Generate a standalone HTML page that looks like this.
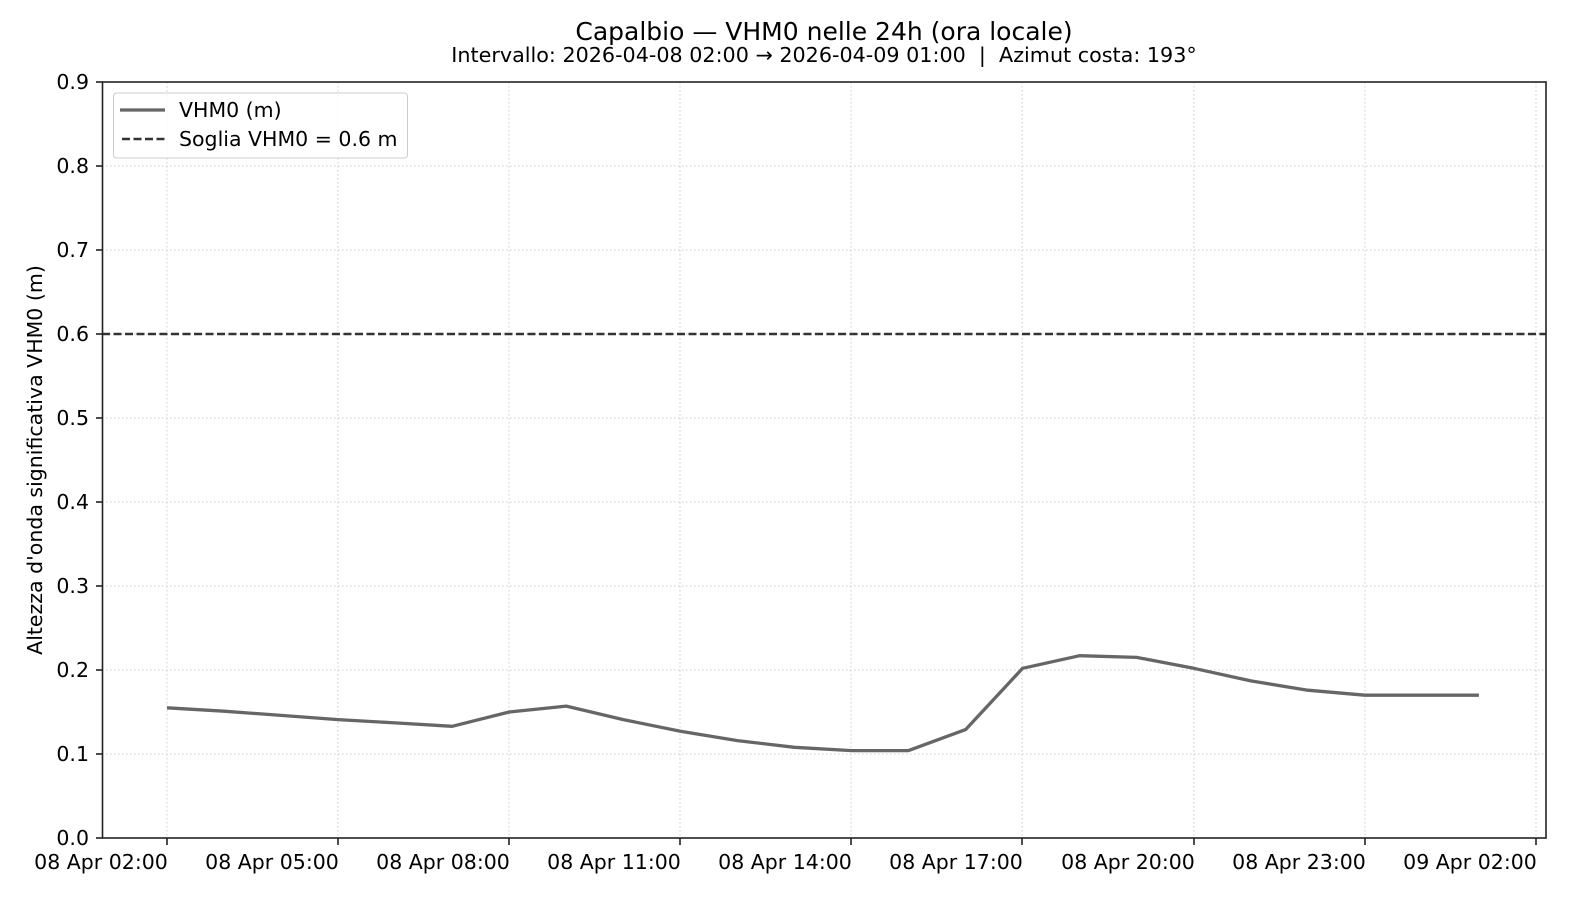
<!DOCTYPE html>
<html><head><meta charset="utf-8"><style>html,body{margin:0;padding:0;background:#fff}svg{display:block}text{font-family:"DejaVu Sans","Liberation Sans",sans-serif;fill:#000}</style></head><body>
<svg width="1575" height="900" viewBox="0 0 1575 900" xmlns="http://www.w3.org/2000/svg">
<rect width="1575" height="900" fill="#fff"/>
<text x="824" y="40" font-size="25" text-anchor="middle">Capalbio — VHM0 nelle 24h (ora locale)</text>
<text x="824" y="62" font-size="20.7" text-anchor="middle" xml:space="preserve">Intervallo: 2026-04-08 02:00 → 2026-04-09 01:00  |  Azimut costa: 193°</text>
<g stroke="#ccc" stroke-width="1" stroke-dasharray="1.5,2.5">
<line x1="167" y1="82" x2="167" y2="838"/><line x1="338" y1="82" x2="338" y2="838"/><line x1="509" y1="82" x2="509" y2="838"/><line x1="680" y1="82" x2="680" y2="838"/><line x1="851" y1="82" x2="851" y2="838"/><line x1="1022" y1="82" x2="1022" y2="838"/><line x1="1194" y1="82" x2="1194" y2="838"/><line x1="1365" y1="82" x2="1365" y2="838"/><line x1="1536" y1="82" x2="1536" y2="838"/>
<line x1="102" y1="754" x2="1546" y2="754"/><line x1="102" y1="670" x2="1546" y2="670"/><line x1="102" y1="586" x2="1546" y2="586"/><line x1="102" y1="502" x2="1546" y2="502"/><line x1="102" y1="418" x2="1546" y2="418"/><line x1="102" y1="334" x2="1546" y2="334"/><line x1="102" y1="250" x2="1546" y2="250"/><line x1="102" y1="166" x2="1546" y2="166"/>
</g>
<line x1="102" y1="334" x2="1546" y2="334" stroke="#333" stroke-width="2.5" stroke-dasharray="8,3.5"/>
<polyline fill="none" stroke="#666" stroke-width="3.3" stroke-linejoin="round" points="167,707.8 224,711.2 281.1,715.4 338.1,719.6 395.2,722.9 452.2,726.3 509.2,712 566.3,706.1 623.3,719.6 680.4,731.3 737.4,740.6 794.4,747.3 851.5,750.6 908.5,750.6 965.6,729.6 1022.6,668.3 1079.6,655.7 1136.7,657.4 1193.7,668.3 1250.8,680.9 1307.8,690.2 1364.8,695.2 1421.9,695.2 1478.9,695.2"/>
<rect x="102.5" y="82" width="1443.5" height="756" fill="none" stroke="#222" stroke-width="1.6"/>
<g stroke="#222" stroke-width="1.6">
<line x1="167" y1="838" x2="167" y2="845"/><line x1="338" y1="838" x2="338" y2="845"/><line x1="509" y1="838" x2="509" y2="845"/><line x1="680" y1="838" x2="680" y2="845"/><line x1="851" y1="838" x2="851" y2="845"/><line x1="1022" y1="838" x2="1022" y2="845"/><line x1="1194" y1="838" x2="1194" y2="845"/><line x1="1365" y1="838" x2="1365" y2="845"/><line x1="1536" y1="838" x2="1536" y2="845"/>
<line x1="96" y1="838" x2="102" y2="838"/><line x1="96" y1="754" x2="102" y2="754"/><line x1="96" y1="670" x2="102" y2="670"/><line x1="96" y1="586" x2="102" y2="586"/><line x1="96" y1="502" x2="102" y2="502"/><line x1="96" y1="418" x2="102" y2="418"/><line x1="96" y1="334" x2="102" y2="334"/><line x1="96" y1="250" x2="102" y2="250"/><line x1="96" y1="166" x2="102" y2="166"/><line x1="96" y1="82" x2="102" y2="82"/>
</g>
<g font-size="20.5" text-anchor="end">
<text x="89" y="845">0.0</text><text x="89" y="761">0.1</text><text x="89" y="677">0.2</text><text x="89" y="593">0.3</text><text x="89" y="509">0.4</text><text x="89" y="425">0.5</text><text x="89" y="341">0.6</text><text x="89" y="257">0.7</text><text x="89" y="173">0.8</text><text x="89" y="89">0.9</text>
</g>
<g font-size="20.5" text-anchor="middle">
<text x="101" y="869">08 Apr 02:00</text><text x="272" y="869">08 Apr 05:00</text><text x="443" y="869">08 Apr 08:00</text><text x="614" y="869">08 Apr 11:00</text><text x="785" y="869">08 Apr 14:00</text><text x="956" y="869">08 Apr 17:00</text><text x="1128" y="869">08 Apr 20:00</text><text x="1299" y="869">08 Apr 23:00</text><text x="1470" y="869">09 Apr 02:00</text>
</g>
<text x="0" y="0" font-size="20.5" text-anchor="middle" transform="translate(42,460) rotate(-90)">Altezza d'onda significativa VHM0 (m)</text>
<rect x="113.5" y="93" width="294" height="65" rx="3" fill="#fff" fill-opacity="0.8" stroke="#ccc" stroke-width="1"/>
<line x1="120" y1="110" x2="165" y2="110" stroke="#666" stroke-width="3.3"/>
<line x1="122" y1="139" x2="165" y2="139" stroke="#333" stroke-width="2.5" stroke-dasharray="8,3.5"/>
<text x="179" y="117" font-size="20.5">VHM0 (m)</text>
<text x="179" y="146" font-size="20.5">Soglia VHM0 = 0.6 m</text>
</svg>
</body></html>
